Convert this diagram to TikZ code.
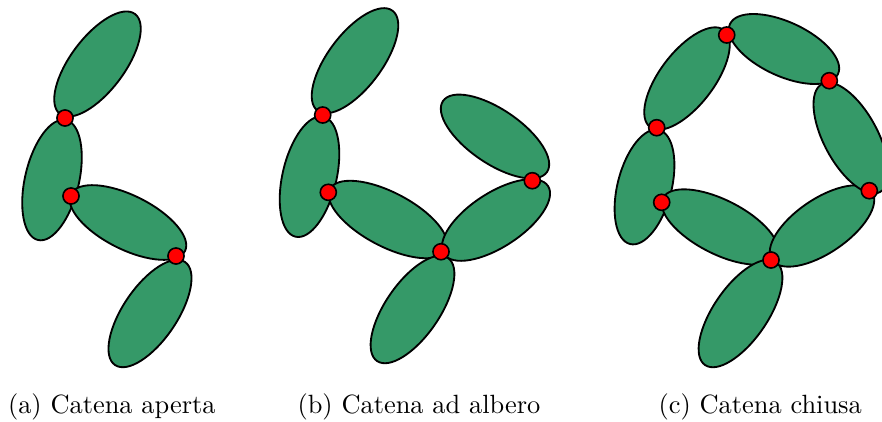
\documentclass[tikz,border=0pt]{standalone}
\usepackage{tikz}
\definecolor{leafgreen}{RGB}{53,153,104}
\tikzset{
  leafstyle/.style={draw=black, fill=leafgreen, line width=0.7pt},
  joint/.style={circle, draw=black, fill=red, line width=0.6pt, inner sep=0pt, minimum size=6.1pt},
  caption/.style={anchor=base west, inner sep=0pt}
}
\newcommand\leaf[4]{%
  \pgfmathsetmacro\lcx{(#1+#3)/2}%
  \pgfmathsetmacro\lcy{(#2+#4)/2}%
  \pgfmathsetmacro\lang{atan2(-(#4-#2),(#3-#1))}%
  \pgfmathsetmacro\lrad{veclen((#3-#1),(#4-#2))/2}%
  \draw[leafstyle, shift={(\lcx,\lcy)}, rotate=\lang] (0,0) ellipse [x radius=\lrad, y radius=27];%
}
\begin{document}
\begin{tikzpicture}[x=0.3788pt, y=-0.3788pt]
\useasboundingbox (0,0) rectangle (882,421);
% (a) open chain
\leaf{60}{114}{135}{14}
\leaf{66}{120}{38}{240}
\leaf{71}{194}{185}{251}
\leaf{185}{262}{115}{365}
\node[joint] (a1) at (65,118) {};
\node[joint] (a2) at (71,196) {};
\node[joint] (a3) at (176,256) {};
% (b) tree chain
\leaf{317.5}{110.7}{392.5}{10.7}
\leaf{323.5}{116.7}{295.5}{236.7}
\leaf{330}{189}{446}{250}
\leaf{448}{258}{377}{361}
\leaf{444}{254}{548}{186}
\leaf{443}{101}{547}{172}
\node[joint] (b1) at (322.7,115) {};
\node[joint] (b2) at (328.3,192.3) {};
\node[joint] (b3) at (441,251.7) {};
\node[joint] (b4) at (532.3,180.7) {};
% (c) closed chain
\leaf{650}{127}{724}{30}
\leaf{659}{130}{630}{244}
\leaf{663}{198}{777}{256}
\leaf{776}{262}{705}{365}
\leaf{772}{260}{872}{192}
\leaf{822}{84}{880}{192}
\leaf{730}{24}{838}{74}
\node[joint] (c1) at (726.7,35) {};
\node[joint] (c2) at (829.3,80.7) {};
\node[joint] (c3) at (656.7,127.7) {};
\node[joint] (c4) at (661.7,202.3) {};
\node[joint] (c5) at (869.3,190.7) {};
\node[joint] (c6) at (771,260) {};
% captions
\node[caption] (capa) at (7.5,413) {(a) Catena aperta};
\node[caption] (capb) at (297,413) {(b) Catena ad albero};
\node[caption] (capc) at (658,413) {(c) Catena chiusa};
\end{tikzpicture}
\end{document}
